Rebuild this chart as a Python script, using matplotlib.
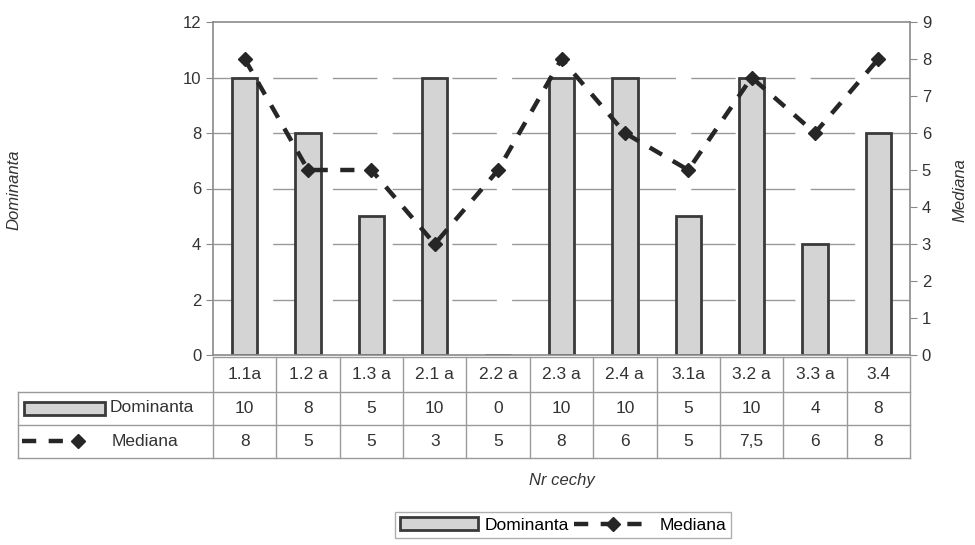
import matplotlib
matplotlib.use("Agg")
import matplotlib.pyplot as plt
from matplotlib.lines import Line2D
from matplotlib.patches import Rectangle

plt.rcParams["font.family"] = ["Liberation Sans", "DejaVu Sans"]

# data
categories = ["1.1a", "1.2 a", "1.3 a", "2.1 a", "2.2 a", "2.3 a", "2.4 a", "3.1a", "3.2 a", "3.3 a", "3.4"]
dominanta = [10, 8, 5, 10, 0, 10, 10, 5, 10, 4, 8]
mediana = [8, 5, 5, 3, 5, 8, 6, 5, 7.5, 6, 8]
mediana_labels = ["8", "5", "5", "3", "5", "8", "6", "5", "7,5", "6", "8"]

W, H = 975, 545
fig = plt.figure(figsize=(W / 100, H / 100), dpi=100)


def fx(px):
    return px / W


def fy(py):
    return 1 - py / H


ax_l, ax_r, ax_t, ax_b = 213, 910, 22, 355
ax = fig.add_axes([fx(ax_l), fy(ax_b), fx(ax_r) - fx(ax_l), fy(ax_t) - fy(ax_b)])
n = len(categories)
x = list(range(n))

bar_face = "#d4d4d4"
edge = "#3a3a3a"
grid_c = "#999999"
txt_c = "#333333"

ax.bar(x, dominanta, width=0.4, color=bar_face, edgecolor=edge, linewidth=2.0, zorder=2)
ax.set_xlim(-0.5, n - 0.5)
ax.set_ylim(0, 12)
ax.set_yticks(range(0, 13, 2))
ax.set_xticks([])
for v in range(2, 12, 2):
    ax.axhline(v, color=grid_c, lw=1.0, ls=(0, (32, 11)), zorder=1)
for s in ["top", "left", "bottom", "right"]:
    ax.spines[s].set_color("#8a8a8a")
    ax.spines[s].set_linewidth(1.2)
ax.tick_params(axis="y", labelsize=12, colors=txt_c, length=5, color="#8a8a8a")

ax2 = ax.twinx()
ax2.set_ylim(0, 9)
ax2.set_yticks(range(0, 10))
line_kw = dict(color="#262626", lw=3.2, ls=(0, (3.2, 2.8)), marker="D", markersize=7,
               markerfacecolor="#262626", markeredgecolor="#262626")
ax2.plot(x, mediana, zorder=3, **line_kw)
ax2.tick_params(axis="y", labelsize=12, colors=txt_c, length=5, color="#8a8a8a")
for s in ["top", "left", "bottom", "right"]:
    ax2.spines[s].set_visible(False)

fig.text(fx(14), fy(190), "Dominanta", rotation=90, style="italic", fontsize=12,
         ha="center", va="center", color=txt_c)
fig.text(fx(960), fy(190), "Mediana", rotation=90, style="italic", fontsize=12,
         ha="center", va="center", color=txt_c)
fig.text(fx(562), fy(480), "Nr cechy", style="italic", fontsize=12,
         ha="center", va="center", color=txt_c)

# data table under the axis
tab_left = 18
row_y = [357, 392, 425, 458]
col_w = (ax_r - ax_l) / n
tcol = "#9a9a9a"


def hline(x0, x1, y):
    fig.add_artist(Line2D([fx(x0), fx(x1)], [fy(y), fy(y)], color=tcol, lw=1.0))


def vline(xp, y0, y1):
    fig.add_artist(Line2D([fx(xp), fx(xp)], [fy(y0), fy(y1)], color=tcol, lw=1.0))


hline(ax_l, ax_r, row_y[0])
hline(tab_left, ax_r, row_y[1])
hline(tab_left, ax_r, row_y[2])
hline(tab_left, ax_r, row_y[3])
vline(tab_left, row_y[1], row_y[3])
for i in range(n + 1):
    vline(ax_l + i * col_w, row_y[0], row_y[3])

for i in range(n):
    cx = fx(ax_l + (i + 0.5) * col_w)
    fig.text(cx, fy((row_y[0] + row_y[1]) / 2), categories[i], ha="center", va="center",
             fontsize=12.5, color=txt_c)
    fig.text(cx, fy((row_y[1] + row_y[2]) / 2), str(dominanta[i]), ha="center", va="center",
             fontsize=12.5, color=txt_c)
    fig.text(cx, fy((row_y[2] + row_y[3]) / 2), mediana_labels[i], ha="center", va="center",
             fontsize=12.5, color=txt_c)

# legend keys inside the table
fig.add_artist(Rectangle((fx(24), fy(415)), fx(105) - fx(24), fy(402) - fy(415),
                         facecolor=bar_face, edgecolor=edge, lw=2.0))
fig.text(fx(110), fy(408), "Dominanta", ha="left", va="center", fontsize=12.5, color=txt_c)
fig.add_artist(Line2D([fx(22), fx(78)], [fy(441), fy(441)], **dict(line_kw, markevery=[1])))
fig.text(fx(112), fy(441), "Mediana", ha="left", va="center", fontsize=12.5, color=txt_c)

# legend at the bottom
h_bar = Rectangle((0, 0), 1, 1, facecolor=bar_face, edgecolor=edge, lw=2.0)
h_line = Line2D([], [], **line_kw)
fig.legend([h_bar, h_line], ["Dominanta", "Mediana"], loc="center",
           bbox_to_anchor=(fx(563), fy(525)), ncol=2, fontsize=12.5, frameon=True,
           fancybox=False, edgecolor=tcol, handlelength=4.5, columnspacing=0.3,
           handletextpad=0.4, borderpad=0.3)

fig.savefig("out.png", dpi=100)
